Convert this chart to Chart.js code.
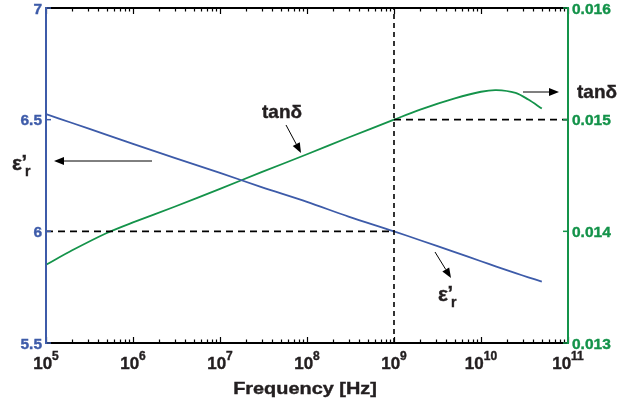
<!DOCTYPE html>
<html><head><meta charset="utf-8">
<script src="https://cdn.jsdelivr.net/npm/chart.js@4.4.1/dist/chart.umd.min.js"></script>
<style>html,body{margin:0;padding:0;background:#fff;overflow:hidden}</style>
</head><body>
<canvas id="c" width="639" height="403"></canvas>
<script>
// ---- data ----
const freq = [1e5, 2e5, 5e5, 1e6, 3e6, 1e7, 3e7, 1e8, 3e8, 1e9, 2e9, 5e9, 1e10, 1.5e10, 2.5e10, 3.5e10, 5e10];
const epsR = [6.525, 6.485, 6.432, 6.392, 6.329, 6.262, 6.198, 6.132, 6.066, 6.000, 5.960, 5.907, 5.866, 5.842, 5.813, 5.794, 5.775];
const tanD = [0.01370, 0.01383, 0.013985, 0.01408, 0.01422, 0.01438, 0.01453, 0.01469, 0.01484, 0.01500, 0.01509, 0.01519, 0.01525, 0.015265, 0.01524, 0.01518, 0.01510];
const xTickExp = [5, 6, 7, 8, 9, 10, 11];
const yLeftTicks = [5.5, 6, 6.5, 7];
const yLeftLabels = ['5.5', '6', '6.5', '7'];
const yRightTicks = [0.013, 0.014, 0.015, 0.016];
const yRightLabels = ['0.013', '0.014', '0.015', '0.016'];
const markFreq = 1e9, markEps = 6.0, markTan = 0.015;

const BLUE = '#3d5ba9', GREEN = '#14934a', DARK = '#231f20';
const FONT = '"Liberation Sans", Arial, sans-serif';

const pts = (xs, ys) => xs.map((x, i) => ({x, y: ys[i]}));

function txt(ctx, s, x, y, size, align, color, sx) {
  ctx.save();
  ctx.font = 'bold ' + size + 'px ' + FONT;
  ctx.fillStyle = color;
  ctx.textBaseline = 'alphabetic';
  sx = sx || 1;
  const w = ctx.measureText(s).width * sx;
  let x0 = x;
  if (align === 'center') x0 = x - w / 2;
  else if (align === 'right') x0 = x - w;
  ctx.translate(x0, y);
  ctx.scale(sx, 1);
  ctx.textAlign = 'left';
  ctx.fillText(s, 0, 0);
  ctx.lineWidth = 0.4; ctx.strokeStyle = color;
  ctx.strokeText(s, 0, 0);
  ctx.restore();
  return w;
}
function arrow(ctx, x1, y1, x2, y2) {
  ctx.save();
  ctx.strokeStyle = '#000'; ctx.fillStyle = '#000'; ctx.lineWidth = 1;
  const a = Math.atan2(y2 - y1, x2 - x1), L = 10, W = 4;
  const bx = x2 - L * Math.cos(a), by = y2 - L * Math.sin(a);
  ctx.beginPath(); ctx.moveTo(x1, y1); ctx.lineTo(bx, by); ctx.stroke();
  ctx.beginPath();
  ctx.moveTo(x2, y2);
  ctx.lineTo(bx + W * Math.sin(a), by - W * Math.cos(a));
  ctx.lineTo(bx - W * Math.sin(a), by + W * Math.cos(a));
  ctx.closePath(); ctx.fill();
  ctx.restore();
}
function epsLabel(ctx, x, y) {
  const w = txt(ctx, 'ε', x, y, 21, 'left', DARK);
  txt(ctx, '’', x + w - 0.5, y - 1, 20, 'left', DARK);
  txt(ctx, 'r', x + w + 3, y + 6, 14, 'left', DARK);
}

const axesPlugin = {
  id: 'axesPlugin',
  afterDatasetsDraw(chart) {
    const ctx = chart.ctx, a = chart.chartArea;
    const xs = chart.scales.x, yl = chart.scales.y, yr = chart.scales.y2;
    ctx.save();
    // frame
    ctx.lineWidth = 2;
    ctx.strokeStyle = '#000';
    ctx.beginPath(); ctx.moveTo(a.left, a.top); ctx.lineTo(a.right, a.top); ctx.stroke();
    ctx.beginPath(); ctx.moveTo(a.left, a.bottom); ctx.lineTo(a.right, a.bottom); ctx.stroke();
    // x ticks (major + minor), inward on bottom and top
    ctx.lineWidth = 1.2;
    for (let d = xTickExp[0]; d <= xTickExp[xTickExp.length - 1]; d++) {
      for (let m = 1; m <= 9; m++) {
        if (d === xTickExp[xTickExp.length - 1] && m > 1) break;
        const px = Math.round(xs.getPixelForValue(m * Math.pow(10, d))) + 0.5;
        const len = m === 1 ? 6 : 3.5;
        ctx.beginPath(); ctx.moveTo(px, a.bottom); ctx.lineTo(px, a.bottom - len); ctx.stroke();
        ctx.beginPath(); ctx.moveTo(px, a.top); ctx.lineTo(px, a.top + len); ctx.stroke();
      }
    }
    // left axis
    ctx.lineWidth = 2; ctx.strokeStyle = BLUE;
    ctx.beginPath(); ctx.moveTo(a.left, a.top - 1); ctx.lineTo(a.left, a.bottom + 1); ctx.stroke();
    ctx.lineWidth = 1.5;
    yLeftTicks.forEach((v, i) => {
      const py = yl.getPixelForValue(v);
      ctx.beginPath(); ctx.moveTo(a.left, py); ctx.lineTo(a.left + 5, py); ctx.stroke();
      txt(ctx, yLeftLabels[i], a.left - 4, py + 5.5, 15.5, 'right', BLUE);
    });
    // right axis
    ctx.lineWidth = 2; ctx.strokeStyle = GREEN;
    ctx.beginPath(); ctx.moveTo(a.right, a.top - 1); ctx.lineTo(a.right, a.bottom + 1); ctx.stroke();
    ctx.lineWidth = 1.5;
    yRightTicks.forEach((v, i) => {
      const py = yr.getPixelForValue(v);
      ctx.beginPath(); ctx.moveTo(a.right, py); ctx.lineTo(a.right - 5, py); ctx.stroke();
      txt(ctx, yRightLabels[i], a.right + 4, py + 5.5, 15.5, 'left', GREEN);
    });
    // x tick labels 10^n
    xTickExp.forEach(e => {
      const px = xs.getPixelForValue(Math.pow(10, e));
      ctx.font = 'bold 17px ' + FONT;
      const w1 = ctx.measureText('10').width;
      ctx.font = 'bold 12px ' + FONT;
      const w2 = ctx.measureText(String(e)).width;
      const x0 = px - (w1 + w2) / 2;
      txt(ctx, '10', x0, a.bottom + 26, 17, 'left', DARK);
      txt(ctx, String(e), x0 + w1, a.bottom + 17, 12, 'left', DARK);
    });
    // axis title
    txt(ctx, 'Frequency [Hz]', (a.left + a.right) / 2 - 2, a.bottom + 51, 17, 'center', DARK, 1.17);
    // annotations
    epsLabel(ctx, 12, 170);
    arrow(ctx, 152, 161, 54, 161);
    txt(ctx, 'tanδ', 262, 118, 19, 'left', DARK);
    arrow(ctx, 286, 125, 301, 153);
    txt(ctx, 'tanδ', 577, 98, 19, 'left', DARK);
    arrow(ctx, 523, 92, 559, 92);
    epsLabel(ctx, 438, 301);
    arrow(ctx, 435, 252, 451, 278);
    ctx.restore();
  }
};

new Chart(document.getElementById('c'), {
  type: 'scatter',
  data: {
    datasets: [
      { data: [{x: markFreq, y: 5.5}, {x: markFreq, y: 7}], yAxisID: 'y', showLine: true,
        borderColor: '#000', borderWidth: 1.6, borderDash: [5, 4], pointRadius: 0, tension: 0 },
      { data: [{x: 1e5, y: markEps}, {x: markFreq, y: markEps}], yAxisID: 'y', showLine: true,
        borderColor: '#000', borderWidth: 1.8, borderDash: [7, 5], pointRadius: 0, tension: 0 },
      { data: [{x: markFreq, y: markTan}, {x: 1e11, y: markTan}], yAxisID: 'y2', showLine: true,
        borderColor: '#000', borderWidth: 1.8, borderDash: [7, 5], pointRadius: 0, tension: 0 },
      { data: pts(freq, epsR), yAxisID: 'y', showLine: true, borderColor: BLUE, borderWidth: 1.8,
        pointRadius: 0, tension: 0.3 },
      { data: pts(freq, tanD), yAxisID: 'y2', showLine: true, borderColor: GREEN, borderWidth: 1.8,
        pointRadius: 0, tension: 0.3 }
    ]
  },
  options: {
    responsive: false, animation: false, devicePixelRatio: 1,
    layout: { padding: { left: 46, right: 71, top: 8, bottom: 60 } },
    plugins: { legend: { display: false }, tooltip: { enabled: false } },
    scales: {
      x: { type: 'logarithmic', min: 1e5, max: 1e11, display: false },
      y: { type: 'linear', position: 'left', min: 5.5, max: 7, display: false },
      y2: { type: 'linear', position: 'right', min: 0.013, max: 0.016, display: false }
    }
  },
  plugins: [axesPlugin]
});
</script>
</body></html>
